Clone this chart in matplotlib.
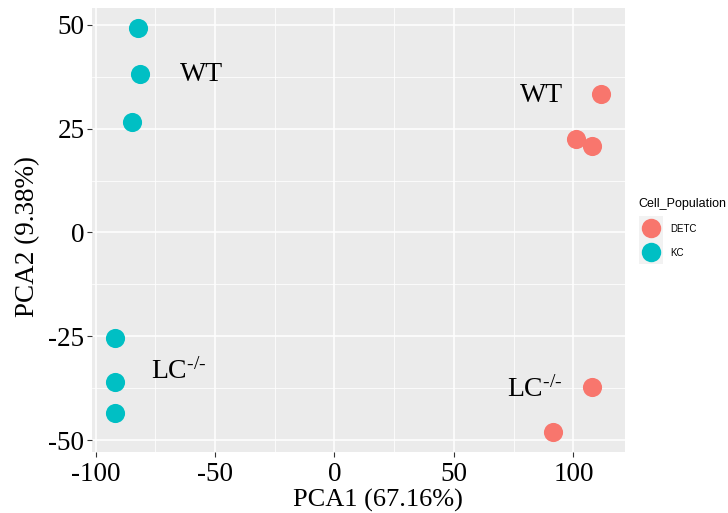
import matplotlib
matplotlib.use('Agg')
import matplotlib.pyplot as plt
from matplotlib.ticker import MultipleLocator
from matplotlib.lines import Line2D
from matplotlib.legend_handler import HandlerTuple

# PCA scores
detc_x = [111.5, 101.3, 107.8, 107.8, 91.6]
detc_y = [33.2, 22.6, 20.7, -37.1, -48.1]
kc_x = [-82.4, -81.6, -84.7, -91.8, -91.8, -91.8]
kc_y = [49.2, 38.1, 26.5, -25.4, -36.0, -43.4]

groups = ['DETC', 'KC']
colors = ['#F8766D', '#00BFC4']

labels = ['WT', 'WT', 'LC$^{\\text{-/-}}$', 'LC$^{\\text{-/-}}$']
label_x = [-64.7, 77.7, -76.8, 72.2]
label_y = [38.1, 33.0, -33.5, -37.8]

serif = 'Liberation Serif'
plt.rcParams['mathtext.fontset'] = 'custom'
plt.rcParams['mathtext.rm'] = serif
plt.rcParams['mathtext.it'] = serif

fig = plt.figure(figsize=(7.28, 5.13), dpi=100)
ax = fig.add_axes([0.1264, 0.1189, 0.7321, 0.8655])
ax.set_facecolor('#EBEBEB')

ax.scatter(detc_x, detc_y, s=190, color=colors[0], zorder=3, linewidths=0)
ax.scatter(kc_x, kc_y, s=190, color=colors[1], zorder=3, linewidths=0)

for t, x, y in zip(labels, label_x, label_y):
    ax.text(x, y, t, fontsize=20, family=serif, ha='left', va='center', zorder=4)

ax.set_xlim(-101.5, 121.6)
ax.set_ylim(-52.8, 54.0)
ax.xaxis.set_major_locator(MultipleLocator(50))
ax.yaxis.set_major_locator(MultipleLocator(25))
ax.xaxis.set_minor_locator(MultipleLocator(25))
ax.yaxis.set_minor_locator(MultipleLocator(12.5))
ax.grid(True, which='major', color='white', linewidth=1.1)
ax.grid(True, which='minor', color='white', linewidth=0.55)
ax.set_axisbelow(True)
for s in ax.spines.values():
    s.set_visible(False)
ax.tick_params(which='major', length=3.5, width=0.8, color='#333333', labelsize=19.5, pad=2)
ax.tick_params(axis='x', which='major', pad=4)
ax.tick_params(which='minor', length=0)
for lab in ax.get_xticklabels() + ax.get_yticklabels():
    lab.set_family(serif)
ax.xaxis.set_major_formatter(plt.FuncFormatter(lambda v, p: f'{v:.0f}'.replace('\u2212', '-')))
ax.yaxis.set_major_formatter(plt.FuncFormatter(lambda v, p: f'{v:.0f}'.replace('\u2212', '-')))

ax.set_xlabel('PCA1 (67.16%)', fontsize=19, family=serif)
ax.set_ylabel('PCA2 (9.38%)', fontsize=19.5, family=serif)
ax.xaxis.set_label_coords(0.537, -0.082)
ax.yaxis.set_label_coords(-0.098, 0.486)

# legend keys: gray square behind a dot, like ggplot
handles = []
for c in colors:
    box = Line2D([], [], marker='s', linestyle='', markersize=17.5,
                 markerfacecolor='#F2F2F2', markeredgewidth=0)
    dot = Line2D([], [], marker='o', linestyle='', markersize=14,
                 markerfacecolor=c, markeredgewidth=0)
    handles.append((box, dot))
leg = fig.legend(handles, groups, title='Cell_Population', loc='upper left',
                 bbox_to_anchor=(0.877, 0.615), frameon=False,
                 prop={'family': 'Liberation Sans', 'size': 7},
                 title_fontproperties={'family': 'Liberation Sans', 'size': 9},
                 handler_map={tuple: HandlerTuple(ndivide=1)},
                 handlelength=2.5, handletextpad=0.75, labelspacing=1.45,
                 borderaxespad=0, borderpad=0)
leg._legend_box.align = 'left'

fig.savefig('out.png', dpi=100)
